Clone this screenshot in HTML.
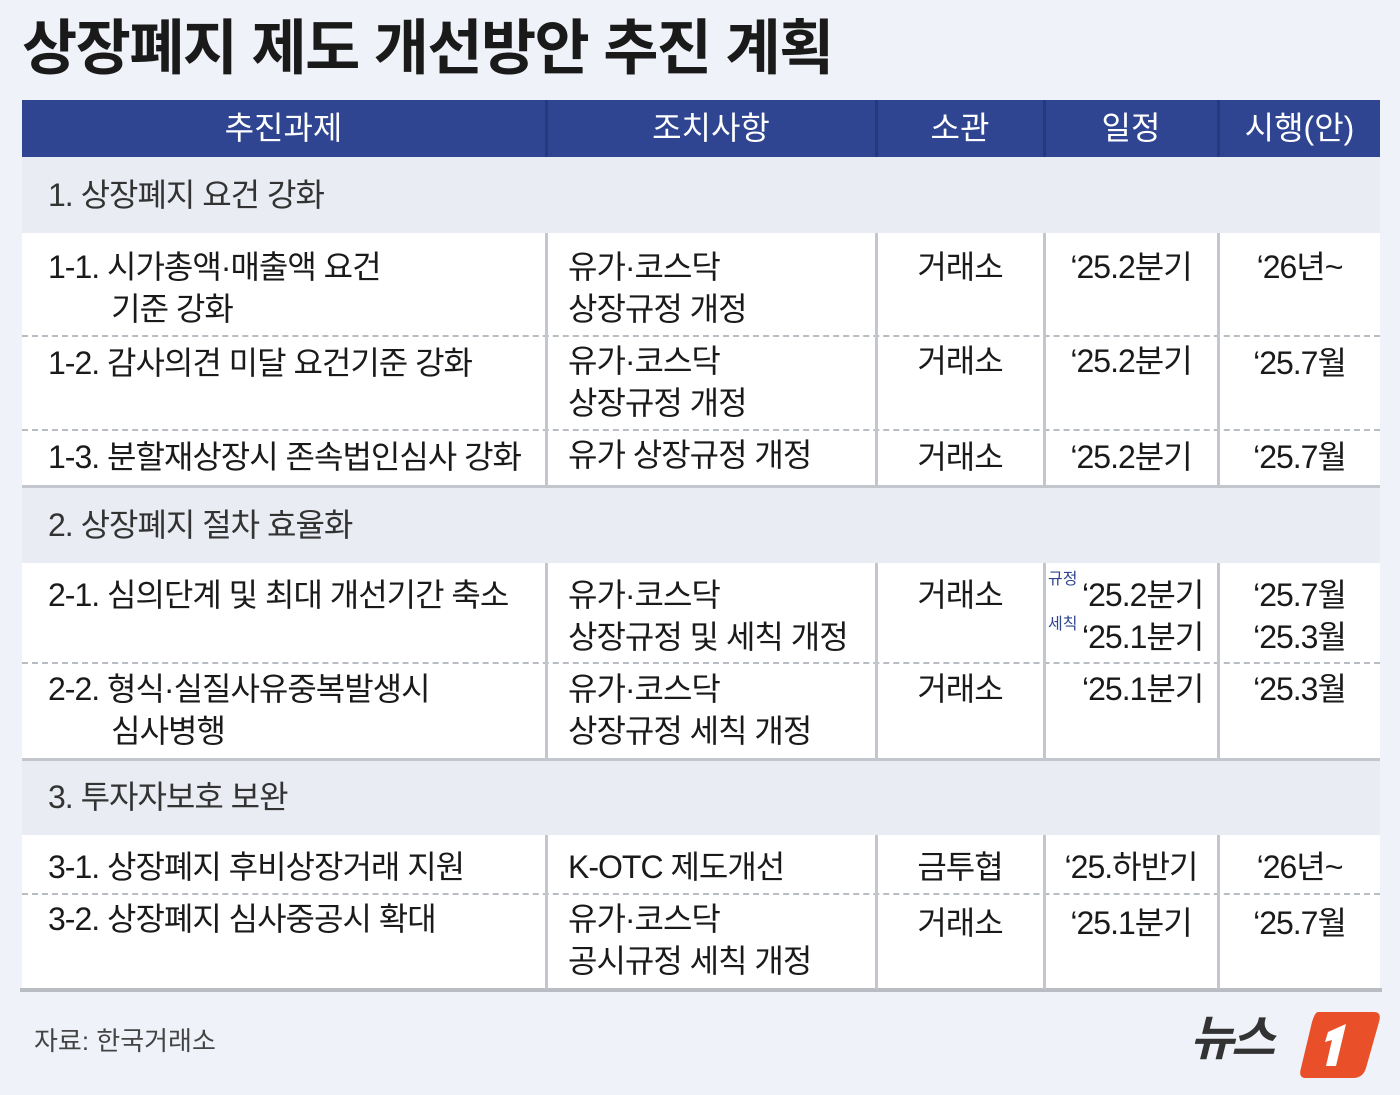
<!DOCTYPE html><html><head><meta charset="utf-8"><style>
body{margin:0;width:1400px;height:1095px;background:#eff2f8;position:relative;overflow:hidden;font-family:"Liberation Sans","Noto Sans CJK KR",sans-serif;color:#1a1a1a}
div{position:absolute;box-sizing:border-box}
.t{font-size:32px;line-height:42px;white-space:nowrap;letter-spacing:-1px}
.c{text-align:center}
.h{color:#fff;font-size:32px;top:106px;line-height:44px;text-align:center}
.sec{left:22px;width:1358px;background:#e9ecf3}
.row{left:22px;width:1358px;background:#fff}
.dash{left:22px;width:1358px;border-top:2px dashed #b8bcc3;height:0}
.v{width:3px;background:#c3c6cc}
</style></head><body>
<div style="left:22px;top:13px;font-size:60px;font-weight:bold;letter-spacing:-1.6px;line-height:72px">상장폐지 제도 개선방안 추진 계획</div>
<div style="left:22px;top:100px;width:1358px;height:57px;background:#2f4591"></div>
<div class="h" style="left:22px;width:523px">추진과제</div>
<div class="h" style="left:547px;width:328px">조치사항</div>
<div class="h" style="left:877px;width:166px">소관</div>
<div class="h" style="left:1045px;width:172px">일정</div>
<div class="h" style="left:1219px;width:161px">시행(안)</div>
<div class="sec" style="top:157px;height:76px"></div>
<div class="row" style="top:233px;height:253px"></div>
<div class="sec" style="top:487px;height:76px"></div>
<div class="row" style="top:563px;height:196px"></div>
<div class="sec" style="top:760px;height:75px"></div>
<div class="row" style="top:835px;height:154px"></div>
<div class="dash" style="top:335px"></div><div class="dash" style="top:429px"></div>
<div class="dash" style="top:662px"></div><div class="dash" style="top:893px"></div>
<div style="left:22px;width:1358px;top:485px;height:3px;background:#c3c6cc"></div>
<div style="left:22px;width:1358px;top:758px;height:3px;background:#c3c6cc"></div>
<div style="left:20px;width:1362px;top:988px;height:4px;background:#b9bcc2"></div>
<div class="v" style="left:545px;top:100px;height:57px;background:#25397d"></div>
<div class="v" style="left:875px;top:100px;height:57px;background:#25397d"></div>
<div class="v" style="left:1043px;top:100px;height:57px;background:#25397d"></div>
<div class="v" style="left:1217px;top:100px;height:57px;background:#25397d"></div>
<div class="v" style="left:545px;top:233px;height:253px"></div><div class="v" style="left:875px;top:233px;height:253px"></div><div class="v" style="left:1043px;top:233px;height:253px"></div><div class="v" style="left:1217px;top:233px;height:253px"></div>
<div class="v" style="left:545px;top:563px;height:196px"></div><div class="v" style="left:875px;top:563px;height:196px"></div><div class="v" style="left:1043px;top:563px;height:196px"></div><div class="v" style="left:1217px;top:563px;height:196px"></div>
<div class="v" style="left:545px;top:835px;height:154px"></div><div class="v" style="left:875px;top:835px;height:154px"></div><div class="v" style="left:1043px;top:835px;height:154px"></div><div class="v" style="left:1217px;top:835px;height:154px"></div>
<div class="t" style="left:48px;top:174px;color:#333">1. 상장폐지 요건 강화</div>
<div class="t" style="left:48px;top:504px;color:#333">2. 상장폐지 절차 효율화</div>
<div class="t" style="left:48px;top:776px;color:#333">3. 투자자보호 보완</div>
<div class="t" style="left:48px;top:246px">1-1. 시가총액·매출액 요건<br>&nbsp;&nbsp;&nbsp;&nbsp;&nbsp;&nbsp;&nbsp;&nbsp;기준 강화</div>
<div class="t" style="left:48px;top:342px">1-2. 감사의견 미달 요건기준 강화</div>
<div class="t" style="left:48px;top:436px">1-3. 분할재상장시 존속법인심사 강화</div>
<div class="t" style="left:48px;top:574px">2-1. 심의단계 및 최대 개선기간 축소</div>
<div class="t" style="left:48px;top:668px">2-2. 형식·실질사유중복발생시<br>&nbsp;&nbsp;&nbsp;&nbsp;&nbsp;&nbsp;&nbsp;&nbsp;심사병행</div>
<div class="t" style="left:48px;top:846px">3-1. 상장폐지 후비상장거래 지원</div>
<div class="t" style="left:48px;top:898px">3-2. 상장폐지 심사중공시 확대</div>
<div class="t" style="left:568px;top:246px">유가·코스닥<br>상장규정 개정</div>
<div class="t" style="left:568px;top:340px">유가·코스닥<br>상장규정 개정</div>
<div class="t" style="left:568px;top:434px">유가 상장규정 개정</div>
<div class="t" style="left:568px;top:574px">유가·코스닥<br>상장규정 및 세칙 개정</div>
<div class="t" style="left:568px;top:668px">유가·코스닥<br>상장규정 세칙 개정</div>
<div class="t" style="left:568px;top:846px">K-OTC 제도개선</div>
<div class="t" style="left:568px;top:898px">유가·코스닥<br>공시규정 세칙 개정</div>
<div class="t c" style="left:877px;width:166px;top:246px">거래소</div>
<div class="t c" style="left:877px;width:166px;top:340px">거래소</div>
<div class="t c" style="left:877px;width:166px;top:436px">거래소</div>
<div class="t c" style="left:877px;width:166px;top:574px">거래소</div>
<div class="t c" style="left:877px;width:166px;top:668px">거래소</div>
<div class="t c" style="left:877px;width:166px;top:846px">금투협</div>
<div class="t c" style="left:877px;width:166px;top:902px">거래소</div>
<div class="t c" style="left:1045px;width:172px;top:246px">‘25.2분기</div>
<div class="t c" style="left:1045px;width:172px;top:340px">‘25.2분기</div>
<div class="t c" style="left:1045px;width:172px;top:436px">‘25.2분기</div>
<div class="t" style="left:1082px;top:574px">‘25.2분기<br>‘25.1분기</div>
<div style="left:1048px;top:570px;font-size:16px;color:#2f4591;line-height:20px">규정</div>
<div style="left:1048px;top:615px;font-size:16px;color:#2f4591;line-height:20px">세칙</div>
<div class="t" style="left:1082px;top:668px">‘25.1분기</div>
<div class="t c" style="left:1045px;width:172px;top:846px">‘25.하반기</div>
<div class="t c" style="left:1045px;width:172px;top:902px">‘25.1분기</div>
<div class="t c" style="left:1219px;width:161px;top:246px">‘26년~</div>
<div class="t c" style="left:1219px;width:161px;top:342px">‘25.7월</div>
<div class="t c" style="left:1219px;width:161px;top:436px">‘25.7월</div>
<div class="t c" style="left:1219px;width:161px;top:574px">‘25.7월<br>‘25.3월</div>
<div class="t c" style="left:1219px;width:161px;top:668px">‘25.3월</div>
<div class="t c" style="left:1219px;width:161px;top:846px">‘26년~</div>
<div class="t c" style="left:1219px;width:161px;top:902px">‘25.7월</div>
<div style="left:34px;top:1024px;font-size:26px;color:#444;line-height:34px">자료: 한국거래소</div>
<div style="left:1190px;top:1010px;font-size:48px;font-weight:bold;font-style:italic;color:#333;line-height:60px;letter-spacing:-3px">뉴스</div>
<svg style="position:absolute;left:1298px;top:1010px" width="84" height="70"><path d="M20 2 H76 Q84 2 81 12 L68 58 Q65 68 55 68 H8 Q0 68 3 58 L14 12 Q17 2 20 2Z" fill="#e9502a"/><path d="M30 22 L48 14 L38 56 L28 56 L34 30 L27 32Z" fill="#fff"/></svg>
</body></html>
